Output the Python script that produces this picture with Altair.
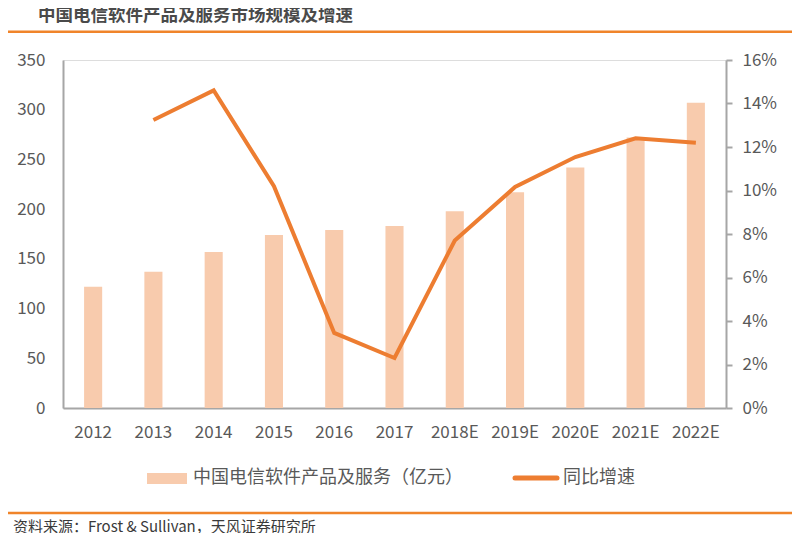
import altair as alt
import pandas as pd

years = ["2012", "2013", "2014", "2015", "2016", "2017", "2018E", "2019E", "2020E", "2021E", "2022E"]
market = [122, 137, 157, 174, 179, 183, 198, 217, 242, 272, 307]
growth = [None, 0.1324, 0.146, 0.102, 0.0345, 0.023, 0.077, 0.1016, 0.1154, 0.124, 0.122]

title_text = "中国电信软件产品及服务市场规模及增速"
source_text = "资料来源：Frost & Sullivan，天风证券研究所"
legend_bar = "中国电信软件产品及服务（亿元）"
legend_line = "同比增速"

FONT = "Noto Sans CJK SC"
BAR_C = "#F8CBAD"
LINE_C = "#ED7D31"
AXIS_C = "#A6A6A6"
LAB_C = "#595959"
RULE_C = "#F0842A"

df = pd.DataFrame({"year": years, "market": market, "growth": growth})

W, H = 663, 348

xenc = alt.X("year:N", sort=years, title=None,
             scale=alt.Scale(paddingInner=0.7, paddingOuter=0.35),
             axis=alt.Axis(labelAngle=0, ticks=False, domainColor=AXIS_C, domainWidth=2,
                           labelColor=LAB_C, labelFontSize=17, labelFont=FONT, labelPadding=16))

bars = alt.Chart(df).mark_bar(color=BAR_C).encode(
    x=xenc,
    y=alt.Y("market:Q", title=None, scale=alt.Scale(domain=[0, 350]),
            axis=alt.Axis(orient="left", values=list(range(0, 351, 50)), ticks=False, grid=False,
                          domainColor=AXIS_C, domainWidth=2, labelColor=LAB_C, labelFontSize=17,
                          labelFont=FONT, labelPadding=18)),
)

line = alt.Chart(df).mark_line(color=LINE_C, strokeWidth=4).encode(
    x=alt.X("year:N", sort=years),
    y=alt.Y("growth:Q", title=None, scale=alt.Scale(domain=[0, 0.16]),
            axis=alt.Axis(orient="right", format=".0%", values=[i / 100 for i in range(0, 17, 2)],
                          grid=False, tickSize=6, tickColor=AXIS_C, tickWidth=2,
                          domainColor=AXIS_C, domainWidth=2, labelColor=LAB_C, labelFontSize=17,
                          labelFont=FONT, labelPadding=10)),
)

one = pd.DataFrame({"k": [0]})

title_mark = alt.Chart(pd.DataFrame({"t": [title_text]})).mark_text(
    align="left", baseline="middle", font=FONT, fontSize=17.5, fontWeight="bold", color="#4A4A4A"
).encode(x=alt.value(-25), y=alt.value(-44.5), text="t:N")

top_rule = alt.Chart(one).mark_rule(color=RULE_C, strokeWidth=2.5).encode(
    x=alt.value(-55), x2=alt.value(729), y=alt.value(-28.3))
bot_rule = alt.Chart(one).mark_rule(color=RULE_C, strokeWidth=2.5).encode(
    x=alt.value(-55), x2=alt.value(729), y=alt.value(453))

source_mark = alt.Chart(pd.DataFrame({"t": [source_text]})).mark_text(
    align="left", baseline="middle", font=FONT, fontSize=15, color="#3A3A3A"
).encode(x=alt.value(-50), y=alt.value(467), text="t:N")

leg_rect = alt.Chart(one).mark_rect(color=BAR_C).encode(
    x=alt.value(84), x2=alt.value(124), y=alt.value(413), y2=alt.value(424))
leg_rect_text = alt.Chart(pd.DataFrame({"t": [legend_bar]})).mark_text(
    align="left", baseline="middle", font=FONT, fontSize=18, color=LAB_C
).encode(x=alt.value(130), y=alt.value(418), text="t:N")
leg_line = alt.Chart(one).mark_rule(color=LINE_C, strokeWidth=5, strokeCap="round").encode(
    x=alt.value(452), x2=alt.value(494), y=alt.value(418))
leg_line_text = alt.Chart(pd.DataFrame({"t": [legend_line]})).mark_text(
    align="left", baseline="middle", font=FONT, fontSize=18, color=LAB_C
).encode(x=alt.value(500), y=alt.value(418), text="t:N")

chart = alt.layer(
    bars, line, title_mark, top_rule, bot_rule, source_mark,
    leg_rect, leg_rect_text, leg_line, leg_line_text
).resolve_scale(y="independent").properties(
    width=W, height=H,
    autosize=alt.AutoSizeParams(type="none"),
    padding={"left": 55, "top": 52, "right": 66, "bottom": 125},
).configure_view(stroke=None).configure(background="white")

chart.save("out.html", embed_options={"renderer": "svg", "actions": False})
